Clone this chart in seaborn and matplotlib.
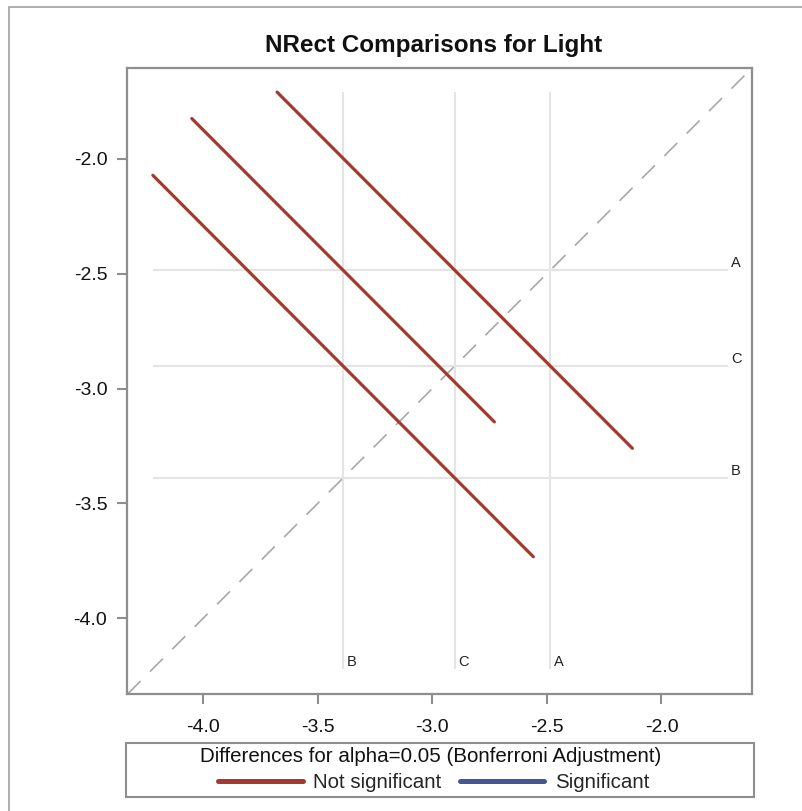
import numpy as np
import pandas as pd
import matplotlib
matplotlib.use("Agg")
import matplotlib.pyplot as plt
from matplotlib.lines import Line2D
from matplotlib.patches import Rectangle
import seaborn as sns

# ---------------- data ----------------
groups = ["A", "C", "B"]
group_means = [-2.485, -2.902, -3.389]
pair_x = ["B", "B", "C"]          # group whose mean is the x-centre of the segment
pair_y = ["C", "A", "A"]          # group whose mean is the y-centre of the segment
pair_halfwidth = [0.83, 0.66, 0.775]
pair_significant = [False, False, False]
x_ticks = [-4.0, -3.5, -3.0, -2.5, -2.0]
y_ticks = [-4.0, -3.5, -3.0, -2.5, -2.0]
title = "NRect Comparisons for Light"
legend_title = "Differences for alpha=0.05 (Bonferroni Adjustment)"
legend_labels = ["Not significant", "Significant"]

# ---------------- style ----------------
sns.set_style("white")
plt.rcParams["font.family"] = ["Liberation Sans", "DejaVu Sans"]
plt.rcParams["axes.unicode_minus"] = False

RED = "#A23A2E"
BLUE = "#445694"
FRAME = "#8E8E8E"
REF = "#E4E4E4"

W, H = 803, 811
fig = plt.figure(figsize=(W / 100, H / 100), dpi=100)
L, R, T, B = 126.7, 752.5, 67.5, 694.0
ax = fig.add_axes([L / W, 1 - B / H, (R - L) / W, (B - T) / H])

mean_of = dict(zip(groups, group_means))
rows = []
for k, (gx, gy, h, sig) in enumerate(zip(pair_x, pair_y, pair_halfwidth, pair_significant)):
    cx, cy = mean_of[gx], mean_of[gy]
    status = legend_labels[1] if sig else legend_labels[0]
    rows.append(dict(pair=k, x=cx - h, y=cy + h, status=status))
    rows.append(dict(pair=k, x=cx + h, y=cy - h, status=status))
df = pd.DataFrame(rows)

lo = min(df["x"].min(), df["y"].min())
hi = max(df["x"].max(), df["y"].max())

# reference lines for group means
ax.vlines(group_means, lo, hi, color=REF, lw=1.5, zorder=1)
ax.hlines(group_means, lo, hi, color=REF, lw=1.5, zorder=1)

# diagonal
ax.axline((-3.0, -3.0), slope=1, color="#A8A8A8", lw=1.2, dashes=(11, 8), zorder=2)

sns.lineplot(data=df, x="x", y="y", units="pair", estimator=None, hue="status",
             hue_order=legend_labels, palette={legend_labels[0]: RED, legend_labels[1]: BLUE},
             lw=2.3, legend=False, sort=False, ax=ax, zorder=3)

for g, m in zip(groups, group_means):
    ax.annotate(g, xy=(hi, m), xytext=(2.2, 0), textcoords="offset points",
                ha="left", va="bottom", fontsize=10.5, color="#222222")
    ax.annotate(g, xy=(m, lo), xytext=(2.5, 0), textcoords="offset points",
                ha="left", va="bottom", fontsize=10.5, color="#222222")

ax.set_xlim(-4.333, -1.603)
ax.set_ylim(-4.329, -1.603)
ax.set_xticks(x_ticks)
ax.set_yticks(y_ticks)
ax.set_xticklabels([f"{v:.1f}" for v in x_ticks])
ax.set_yticklabels([f"{v:.1f}" for v in y_ticks])
ax.set_xlabel("")
ax.set_ylabel("")
for s in ax.spines.values():
    s.set_color(FRAME)
    s.set_linewidth(1.6)
ax.tick_params(axis="both", direction="out", length=7.5, width=1.5, color=FRAME,
               labelsize=14, labelcolor="#111111")
ax.tick_params(axis="x", pad=10.5)
ax.tick_params(axis="y", pad=6.5)
ax.tick_params(left=True, bottom=True)

fig.text(434 / W, 1 - 52 / H, title, ha="center", va="baseline", fontsize=17.5,
         fontweight="bold", color="#111111")

# legend box
lx0, lx1, ly0, ly1 = 126.5, 754.5, 742.5, 796.5
fig.patches.append(Rectangle((lx0 / W, 1 - ly1 / H), (lx1 - lx0) / W, (ly1 - ly0) / H,
                             transform=fig.transFigure, fill=False, edgecolor=FRAME, lw=1.5))
fig.text(431 / W, 1 - 757 / H, legend_title, ha="center", va="center", fontsize=14.8,
         color="#111111")
handles = [Line2D([], [], color=RED, lw=3.6), Line2D([], [], color=BLUE, lw=3.6)]
fig.legend(handles, legend_labels, loc="center", bbox_to_anchor=(434 / W, 1 - 783 / H),
           ncol=2, frameon=False, fontsize=14.8, handlelength=4.1, handletextpad=0.53,
           columnspacing=0.9, borderpad=0, borderaxespad=0)

# outer frame
fig.patches.append(Rectangle((9.5 / W, -0.05), 1.2, 1 - 7.5 / H + 0.05, transform=fig.transFigure,
                             fill=False, edgecolor="#A0A0A0", lw=1.2))

fig.savefig("out.png", dpi=100)
